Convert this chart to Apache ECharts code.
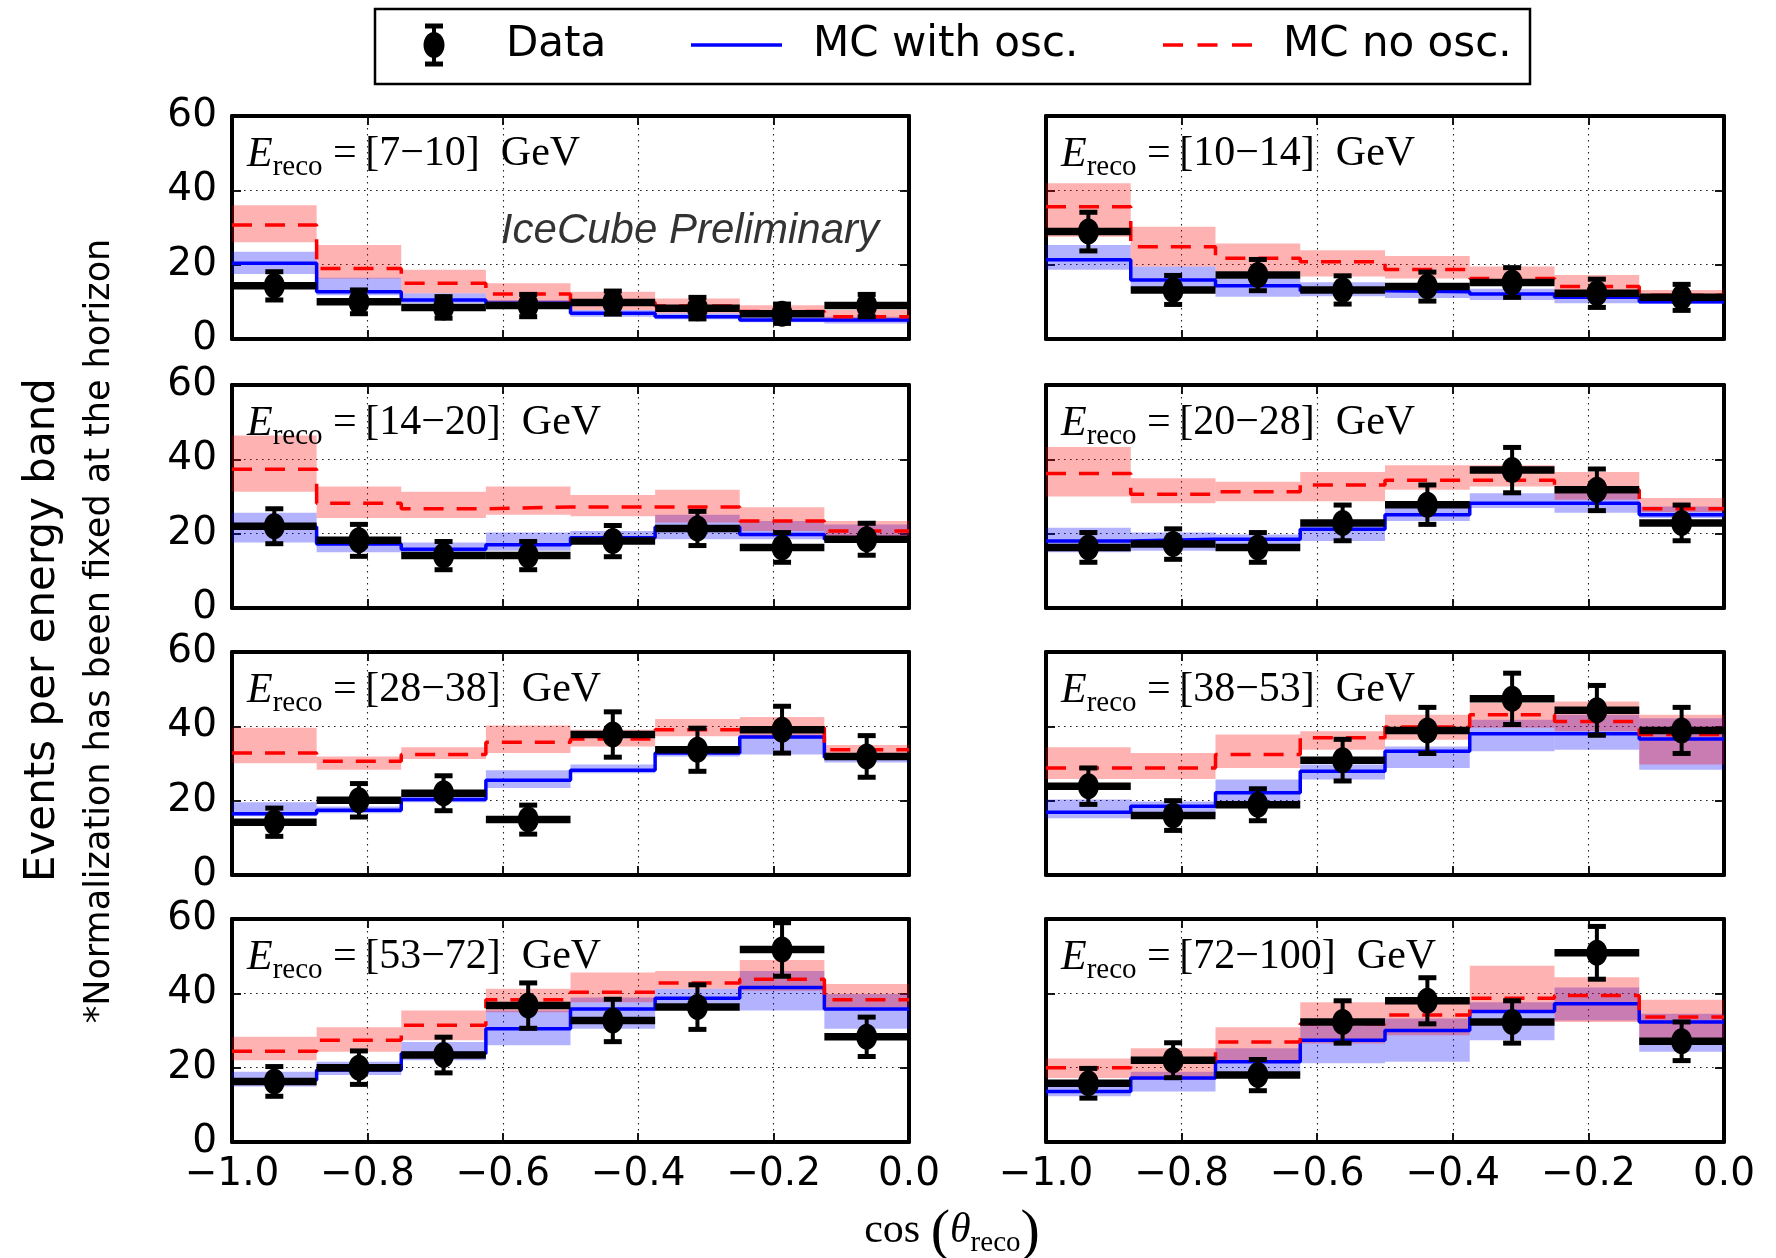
<!DOCTYPE html>
<html><head><meta charset="utf-8">
<script src="https://cdn.jsdelivr.net/npm/echarts@6/dist/echarts.min.js"></script>
<style>html,body{margin:0;padding:0;background:#fff}#c{width:1776px;height:1258px}</style>
</head><body><div id="c"></div>
<script>
// ---------- DATA ----------
const binEdges = [-1, -0.875, -0.75, -0.625, -0.5, -0.375, -0.25, -0.125, 0];
const energyBands = ['7−10', '10−14', '14−20', '20−28', '28−38', '38−53', '53−72', '72−100'];
const xTickLabels = ['−1.0', '−0.8', '−0.6', '−0.4', '−0.2', '0.0'];
const yTickLabels = ['0', '20', '40', '60'];

// observed data counts per energy band (8 cos-zenith bins each)
const dataCounts = [
  [14.3, 10.0, 8.5, 9.0, 9.8, 8.3, 6.8, 9.0],
  [28.9, 13.2, 17.2, 13.2, 14.1, 15.2, 12.3, 11.2],
  [22.0, 18.2, 14.1, 14.1, 18.0, 21.4, 16.3, 18.5],
  [16.3, 17.2, 16.3, 22.9, 27.8, 37.1, 31.8, 22.9],
  [14.2, 20.1, 22.0, 14.9, 37.8, 33.7, 39.1, 31.9],
  [23.9, 16.0, 18.9, 30.9, 38.9, 47.4, 44.3, 38.9],
  [16.3, 20.0, 23.4, 36.7, 32.7, 36.3, 51.8, 28.3],
  [15.8, 22.0, 18.0, 32.3, 38.0, 32.3, 50.9, 27.1]
];
const dataErrors = [
  [3.8, 3.2, 2.9, 3.0, 3.1, 2.9, 2.6, 3.0],
  [5.2, 3.9, 4.2, 3.8, 3.9, 4.0, 3.8, 3.5],
  [4.7, 4.3, 3.8, 3.8, 4.2, 4.6, 4.0, 4.3],
  [4.0, 4.1, 4.0, 4.8, 5.3, 6.1, 5.6, 4.8],
  [3.8, 4.5, 4.7, 3.9, 6.1, 5.8, 6.3, 5.6],
  [4.9, 4.0, 4.3, 5.6, 6.2, 6.9, 6.7, 6.2],
  [4.0, 4.5, 4.8, 6.1, 5.7, 6.0, 7.2, 5.3],
  [4.0, 4.7, 4.2, 5.7, 6.2, 5.7, 7.1, 5.2]
];
// MC with oscillations: central value and band
const mcOsc = [
  [20.4, 12.7, 10.5, 9.6, 6.9, 6.0, 5.1, 5.1],
  [21.3, 15.9, 14.3, 13.0, 12.7, 12.1, 11.2, 10.0],
  [21.8, 17.2, 15.8, 17.0, 18.9, 21.8, 19.8, 18.5],
  [18.0, 18.5, 18.5, 21.2, 25.1, 28.2, 28.2, 25.1],
  [16.5, 17.4, 20.3, 25.5, 28.2, 32.8, 37.1, 31.7],
  [16.9, 18.5, 22.1, 27.9, 33.3, 38.0, 38.0, 36.6],
  [16.7, 19.4, 23.8, 30.5, 35.8, 38.7, 41.6, 35.8],
  [13.6, 17.2, 21.6, 27.4, 30.0, 35.1, 37.2, 32.3]
];
const mcOscLow = [
  [17.5, 11.8, 9.6, 8.3, 6.0, 5.3, 4.5, 4.2],
  [18.6, 13.0, 11.4, 11.5, 11.0, 10.5, 9.6, 9.4],
  [17.6, 15.0, 14.1, 15.4, 17.2, 18.5, 18.5, 17.6],
  [15.0, 15.4, 15.8, 18.0, 23.4, 26.9, 25.6, 24.2],
  [15.8, 16.6, 19.6, 23.4, 27.4, 31.9, 32.4, 30.3],
  [15.3, 15.8, 19.4, 25.7, 28.8, 33.3, 33.7, 28.3],
  [14.9, 18.0, 22.0, 26.0, 30.5, 37.2, 35.4, 30.5],
  [12.3, 13.6, 18.0, 21.2, 21.6, 27.4, 32.7, 24.3]
];
const mcOscHigh = [
  [23.5, 16.5, 12.3, 10.5, 7.8, 6.9, 6.0, 6.0],
  [25.3, 19.5, 16.3, 15.3, 14.3, 13.5, 12.7, 11.2],
  [25.6, 18.9, 17.6, 20.3, 20.7, 25.1, 23.4, 22.5],
  [21.6, 20.3, 19.8, 22.5, 27.3, 30.9, 30.9, 27.3],
  [19.6, 18.4, 21.8, 28.2, 29.7, 34.6, 37.8, 32.8],
  [20.3, 19.8, 25.7, 29.7, 34.6, 41.8, 43.1, 42.2],
  [18.9, 21.6, 26.9, 35.4, 38.9, 41.2, 46.0, 39.8],
  [15.4, 18.9, 25.2, 31.4, 33.2, 37.6, 41.6, 34.5]
];
// MC without oscillations: central value and band
const mcNoOsc = [
  [30.7, 19.0, 15.0, 12.1, 9.8, 8.9, 7.4, 6.0],
  [35.6, 24.8, 21.7, 20.8, 18.7, 16.3, 14.1, 11.8],
  [37.3, 28.2, 26.7, 27.2, 27.2, 27.2, 23.4, 20.7],
  [36.2, 30.6, 31.3, 33.1, 34.4, 34.4, 31.8, 26.7],
  [32.8, 30.6, 32.4, 35.7, 36.6, 39.1, 39.6, 33.7],
  [28.8, 28.8, 32.4, 36.9, 39.8, 43.1, 41.3, 37.8],
  [24.4, 27.4, 31.4, 38.3, 40.3, 42.8, 43.8, 38.3],
  [20.0, 22.0, 26.9, 31.8, 34.2, 38.7, 39.4, 33.6]
];
const mcNoOscLow = [
  [26.0, 16.3, 12.3, 10.0, 7.8, 6.9, 6.0, 4.7],
  [27.5, 19.5, 18.1, 16.8, 16.3, 15.0, 12.7, 10.9],
  [31.3, 24.2, 24.2, 25.1, 24.7, 23.0, 20.7, 18.9],
  [30.0, 28.2, 28.7, 28.7, 31.8, 32.7, 29.1, 25.8],
  [30.1, 28.3, 31.2, 32.8, 34.6, 37.3, 37.3, 32.4],
  [25.8, 25.8, 28.8, 33.7, 36.4, 39.6, 38.7, 29.7],
  [22.0, 24.3, 27.4, 34.9, 37.6, 41.2, 40.7, 36.3],
  [17.2, 16.7, 21.6, 26.5, 28.7, 34.9, 32.3, 27.4]
];
const mcNoOscHigh = [
  [36.0, 25.3, 18.6, 15.0, 12.7, 10.9, 9.1, 7.8],
  [41.9, 30.2, 25.7, 23.9, 22.3, 19.5, 17.2, 13.2],
  [46.4, 32.7, 31.3, 32.7, 30.4, 31.8, 27.1, 23.4],
  [43.3, 34.9, 34.0, 36.6, 38.4, 38.4, 36.6, 29.6],
  [39.6, 31.9, 34.4, 40.2, 39.1, 42.0, 42.5, 35.0],
  [34.4, 32.8, 37.8, 38.7, 43.1, 46.3, 46.7, 43.1],
  [28.3, 30.9, 35.4, 41.2, 45.6, 46.0, 49.0, 42.5],
  [22.5, 25.2, 30.9, 37.6, 38.9, 47.4, 44.3, 38.3]
];

// ---------- LAYOUT ----------
const gridLefts = [232, 1046];
const gridWidths = [677, 678];
const gridTops = [116, 385, 652, 919];
const gridHeight = 223;
const tickFont = 'DejaVu Sans';
const serif = 'Liberation Serif';

const chart = echarts.init(document.getElementById('c'), null, { renderer: 'canvas' });

const grids = [], xAxes = [], yAxes = [], series = [], graphics = [];
const axisLineStyle = { color: '#000', width: 4 };
const tickStyle = { inside: true, length: 9, lineStyle: { color: '#000', width: 1.8 } };
const gridDot = { type: [1.6, 4.4], color: '#222', width: 1.1 };

function fmtX(v) {
  const idx = Math.round((v + 1) / 0.2);
  return xTickLabels[idx] !== undefined ? xTickLabels[idx] : '';
}
function fmtY(v) {
  const idx = Math.round(v / 20);
  return yTickLabels[idx] !== undefined ? yTickLabels[idx] : '';
}

function bandSeries(i, lo, hi, color, z) {
  const items = lo.map((l, k) => [binEdges[k], binEdges[k + 1], l, hi[k]]);
  return {
    type: 'custom', xAxisIndex: 2 * i, yAxisIndex: 2 * i, z: z, silent: true, clip: true,
    data: items,
    renderItem: function (params, api) {
      const p0 = api.coord([api.value(0), api.value(3)]);
      const p1 = api.coord([api.value(1), api.value(2)]);
      return { type: 'rect', shape: { x: p0[0], y: p0[1], width: p1[0] - p0[0], height: p1[1] - p0[1] },
        style: { fill: color } };
    }
  };
}
function stepSeries(i, vals, color, dashed, z) {
  const pts = vals.map((v, k) => [binEdges[k], v]);
  pts.push([binEdges[binEdges.length - 1], vals[vals.length - 1]]);
  return {
    type: 'line', xAxisIndex: 2 * i, yAxisIndex: 2 * i, step: 'end', symbol: 'none', z: z,
    silent: true, animation: false, data: pts,
    lineStyle: { color: color, width: 3.5, type: dashed ? [20, 13] : 'solid', cap: 'butt' }
  };
}
function dataSeries(i) {
  const items = dataCounts[i].map((v, k) => [binEdges[k], binEdges[k + 1], v, dataErrors[i][k]]);
  return {
    type: 'custom', xAxisIndex: 2 * i, yAxisIndex: 2 * i, z: 6, silent: true, clip: false,
    data: items,
    renderItem: function (params, api) {
      const x0 = api.value(0), x1 = api.value(1), y = api.value(2), e = api.value(3);
      const xm = (x0 + x1) / 2;
      const pL = api.coord([x0, y]), pR = api.coord([x1, y]);
      const pC = api.coord([xm, y]), pT = api.coord([xm, y + e]), pB = api.coord([xm, y - e]);
      return { type: 'group', children: [
        { type: 'line', shape: { x1: pL[0], y1: pL[1], x2: pR[0], y2: pR[1] }, style: { stroke: '#000', lineWidth: 7.5 } },
        { type: 'line', shape: { x1: pT[0], y1: pT[1], x2: pB[0], y2: pB[1] }, style: { stroke: '#000', lineWidth: 4 } },
        { type: 'line', shape: { x1: pT[0] - 9, y1: pT[1], x2: pT[0] + 9, y2: pT[1] }, style: { stroke: '#000', lineWidth: 5 } },
        { type: 'line', shape: { x1: pB[0] - 9, y1: pB[1], x2: pB[0] + 9, y2: pB[1] }, style: { stroke: '#000', lineWidth: 5 } },
        { type: 'ellipse', shape: { cx: pC[0], cy: pC[1], rx: 10.5, ry: 13 }, style: { fill: '#000' } }
      ] };
    }
  };
}

for (let i = 0; i < 8; i++) {
  const col = i % 2, row = Math.floor(i / 2);
  grids.push({ left: gridLefts[col], top: gridTops[row], width: gridWidths[col], height: gridHeight,
    show: false, containLabel: false });
  const showX = row === 3, showY = col === 0;
  xAxes.push({
    gridIndex: i, type: 'value', min: -1, max: 0, interval: 0.2, position: 'bottom',
    axisLine: { show: true, onZero: false, lineStyle: axisLineStyle },
    axisTick: tickStyle,
    axisLabel: { show: showX, formatter: fmtX, fontFamily: tickFont, fontSize: 39, color: '#000', margin: 13 },
    splitLine: { show: true, lineStyle: gridDot }
  });
  xAxes.push({
    gridIndex: i, type: 'value', min: -1, max: 0, interval: 0.2, position: 'top',
    axisLine: { show: true, onZero: false, lineStyle: axisLineStyle },
    axisTick: tickStyle, axisLabel: { show: false }, splitLine: { show: false }
  });
  yAxes.push({
    gridIndex: i, type: 'value', min: 0, max: 60, interval: 20, position: 'left',
    axisLine: { show: true, onZero: false, lineStyle: axisLineStyle },
    axisTick: tickStyle,
    axisLabel: { show: showY, formatter: fmtY, fontFamily: tickFont, fontSize: 39, color: '#000', margin: 15 },
    splitLine: { show: true, lineStyle: gridDot }
  });
  yAxes.push({
    gridIndex: i, type: 'value', min: 0, max: 60, interval: 20, position: 'right',
    axisLine: { show: true, onZero: false, lineStyle: axisLineStyle },
    axisTick: tickStyle, axisLabel: { show: false }, splitLine: { show: false }
  });

  series.push(bandSeries(i, mcOscLow[i], mcOscHigh[i], 'rgba(0,0,255,0.3)', 2));
  series.push(bandSeries(i, mcNoOscLow[i], mcNoOscHigh[i], 'rgba(255,0,0,0.3)', 3));
  series.push(stepSeries(i, mcOsc[i], '#0000ff', false, 4));
  series.push(stepSeries(i, mcNoOsc[i], '#ff0000', true, 5));
  series.push(dataSeries(i));

  // panel label
  graphics.push({
    type: 'text', x: gridLefts[col] + 15, y: gridTops[row] + 17, z: 20,
    style: {
      text: '{e|E}{s|reco}{n| =\u2009[' + energyBands[i] + ']  GeV}',
      rich: {
        e: { fontFamily: serif, fontStyle: 'italic', fontSize: 42, padding: [0, 0, 5, 0], fill: '#000' },
        s: { fontFamily: serif, fontSize: 29, padding: [19, 0, 0, 0], fill: '#000' },
        n: { fontFamily: serif, fontSize: 42, padding: [0, 0, 7, 0], fill: '#000' }
      }
    }
  });
}

// IceCube Preliminary
graphics.push({ type: 'text', x: 879, y: 231, z: 20,
  style: { text: 'IceCube Preliminary', fontFamily: 'Liberation Sans', fontStyle: 'italic', fontSize: 42,
    fill: '#333', align: 'right', verticalAlign: 'middle' } });

// Y titles
graphics.push({ type: 'text', x: 43, y: 630, rotation: Math.PI / 2, z: 20,
  style: { text: 'Events per energy band', fontFamily: 'DejaVu Sans', fontSize: 42, fill: '#000',
    align: 'center', verticalAlign: 'middle' } });
graphics.push({ type: 'text', x: 100, y: 631, rotation: Math.PI / 2, z: 20,
  style: { text: '*Normalization has been fixed at the horizon', fontFamily: 'DejaVu Sans', fontSize: 35, fill: '#000',
    align: 'center', verticalAlign: 'middle' } });

// X title
graphics.push({ type: 'text', x: 952, y: 1234, z: 20,
  style: {
    text: '{n|cos }{p|(}{t|θ}{s|reco}{p|)}',
    align: 'center', verticalAlign: 'middle',
    rich: {
      n: { fontFamily: serif, fontSize: 42, padding: [0, 0, 6, 0], fill: '#000' },
      p: { fontFamily: serif, fontSize: 58, padding: [0, 0, 0, 0], fill: '#000' },
      t: { fontFamily: serif, fontStyle: 'italic', fontSize: 42, padding: [0, 0, 6, 0], fill: '#000' },
      s: { fontFamily: serif, fontSize: 29, padding: [19, 0, 0, 0], fill: '#000' }
    }
  } });

// Legend box
const legY = 45;
graphics.push({ type: 'rect', shape: { x: 375, y: 9, width: 1155, height: 75 }, z: 20,
  style: { fill: '#fff', stroke: '#000', lineWidth: 2.5 } });
graphics.push({ type: 'line', shape: { x1: 434, y1: legY - 19, x2: 434, y2: legY + 19 }, z: 21, style: { stroke: '#000', lineWidth: 4 } });
graphics.push({ type: 'line', shape: { x1: 425, y1: legY - 19, x2: 443, y2: legY - 19 }, z: 21, style: { stroke: '#000', lineWidth: 5 } });
graphics.push({ type: 'line', shape: { x1: 425, y1: legY + 19, x2: 443, y2: legY + 19 }, z: 21, style: { stroke: '#000', lineWidth: 5 } });
graphics.push({ type: 'ellipse', shape: { cx: 434, cy: legY, rx: 10.5, ry: 13 }, z: 21, style: { fill: '#000' } });
graphics.push({ type: 'text', x: 506, y: legY, z: 21, style: { text: 'Data', fontFamily: 'DejaVu Sans', fontSize: 42, fill: '#000', verticalAlign: 'middle' } });
graphics.push({ type: 'line', shape: { x1: 691, y1: legY, x2: 782, y2: legY }, z: 21, style: { stroke: '#0000ff', lineWidth: 3.5 } });
graphics.push({ type: 'text', x: 813, y: legY, z: 21, style: { text: 'MC with osc.', fontFamily: 'DejaVu Sans', fontSize: 42, fill: '#000', verticalAlign: 'middle' } });
graphics.push({ type: 'line', shape: { x1: 1163, y1: legY, x2: 1252, y2: legY }, z: 21, style: { stroke: '#ff0000', lineWidth: 3.5, lineDash: [20, 14.5] } });
graphics.push({ type: 'text', x: 1283, y: legY, z: 21, style: { text: 'MC no osc.', fontFamily: 'DejaVu Sans', fontSize: 42, fill: '#000', verticalAlign: 'middle' } });

chart.setOption({
  animation: false,
  backgroundColor: '#fff',
  grid: grids, xAxis: xAxes, yAxis: yAxes, series: series,
  graphic: graphics
});
</script></body></html>
